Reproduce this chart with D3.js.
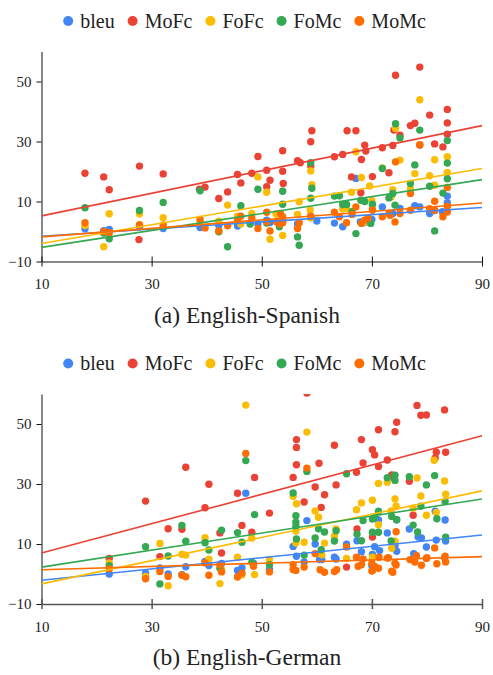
<!DOCTYPE html>
<html>
<head>
<meta charset="utf-8">
<script src="https://cdn.jsdelivr.net/npm/d3@7"></script>
<style>
body { margin: 0; background: #fff; }
text { font-family: "Liberation Serif", "Times New Roman", serif; fill: #222; }
</style>
</head>
<body>
<div id="chart-area"></div>
<script>
//============================DATA============================
var seriesNames = ["bleu", "MoFc", "FoFc", "FoMc", "MoMc"];
var seriesColors = ["#4285f4", "#ea4335", "#fbbc04", "#34a853", "#ff6d01"];
var xTicks = [10, 30, 50, 70, 90];
var yTicks = [-10, 10, 30, 50];
var panelTitles = ["(a) English-Spanish", "(b) English-German"];

// (a) English-Spanish, [x, y] pairs
var esBleu = [[17.9,0.9],[21.3,0.3],[22.3,0.7],[27.8,1.6],[32.1,1],[38.8,1.3],[42.2,2],[45.6,1.8],[47.9,2.9],[49.3,2.5],[50.9,3.8],[51.5,3],[53.3,3.3],[53.8,3.5],[56.5,2.5],[58.9,5],[60,3.5],[63.2,2.8],[64.7,1.6],[67.1,17.7],[67.9,3.2],[68.7,3],[70,4],[71.9,8.2],[73.8,6],[75.1,7.7],[77.8,8.6],[78.7,8.2],[80.5,6],[81.4,7],[82.8,6.6],[83.7,11.8],[83.7,9.6]];
var esMoFc = [[17.9,19.4],[21.3,18.2],[22.3,13.9],[27.8,21.8],[27.7,-2.7],[32.1,19.2],[38.7,14.1],[39.7,14.8],[42.2,11],[43.8,13.2],[45.6,19],[46.2,16.2],[48.2,19.4],[49.3,25],[50.9,20.4],[50.9,14.9],[51.5,17.1],[53.8,26.9],[53.8,20.1],[53.9,16],[56.5,23.6],[57,22.9],[58.9,29.9],[59.1,33.6],[58.9,21.8],[63.2,24.9],[64.7,25.7],[65.5,33.6],[67.1,33.6],[66.3,18.2],[68.1,24],[68.7,28.8],[68.9,26.8],[68,12.9],[70.1,18.3],[71.9,27.9],[73.1,19.6],[73.8,28.7],[74.3,52.1],[74,33.8],[75.1,32.1],[77,35.3],[77.8,36.1],[78.7,54.8],[78.7,28.8],[80.5,38.8],[81.4,29.2],[82.9,28.2],[83.7,40.7],[83.7,36.2],[83.7,32.4]];
var esFoFc = [[17.9,2],[21.3,-5.1],[22.3,5.9],[27.8,5.9],[32.1,4.6],[38.8,3.2],[42.2,3.4],[43.8,8.8],[45.6,5.1],[46.2,2.5],[48.2,6],[49.3,18.2],[50.9,13.1],[51.5,-2.6],[53.8,-1.3],[53.8,4],[52.9,3.8],[52.6,5.9],[56.5,5.7],[56.8,9.9],[58.9,20.2],[59.1,15.6],[58.9,4.5],[58.8,7.2],[64.7,7.5],[65.4,7.7],[67.1,26.6],[66.3,13.1],[68.1,18],[68.5,3],[69.6,15.2],[70.1,7.7],[70,10.3],[71.9,21.2],[73.8,13.9],[73.5,11.5],[74.3,34.3],[75.1,23.8],[77,14.2],[77.8,19.3],[78.7,43.9],[80.5,18.6],[81.4,23.9],[81.4,15.4],[83.7,24.9],[83.7,19.7]];
var esFoMc = [[17.9,7.9],[21.3,-0.5],[22.3,-2.4],[27.8,7],[32.1,9.7],[38.8,13.6],[42.2,-0.1],[43.8,-5.1],[46.2,8.6],[47.9,2.5],[49.3,14.1],[50.9,2.8],[53.8,13.4],[53.8,9.1],[53.2,1.6],[56.5,-1.8],[56.8,-4.6],[58.9,22.9],[59.1,14.4],[58.9,11.1],[63.2,11.8],[64.1,11.9],[64.7,9],[65.4,9],[66.4,6.6],[67.1,-0.7],[68,10.4],[68.7,10],[70.1,9.1],[69.8,2.7],[71.9,21],[73.1,11.2],[73.8,12.7],[74.3,35.9],[75.1,31.2],[74.2,8.8],[77,16],[77.8,22.2],[78.7,33.8],[80.5,15.1],[81.4,0.2],[82.9,12.8],[83.7,30.3],[83.7,22.8],[83.7,17.6]];
var esMoMc = [[17.9,2.9],[21.3,0],[22.3,-0.4],[27.8,2.3],[32.1,2.1],[38.8,4],[39.7,1.2],[42.2,0.2],[43.8,1.9],[45.6,3.8],[46.2,5.1],[48.2,4.5],[49.3,1],[50.9,6.4],[50.9,3.2],[51.5,0.2],[52.7,3.2],[53.4,6],[53.8,4.9],[53.8,2.9],[53.3,2.5],[56.5,1],[56.8,2.9],[58.9,5.1],[63.2,6.4],[64.1,4.9],[65.4,2.9],[67.1,8.2],[66.4,5.7],[68.1,2.7],[68.7,3.8],[69.3,4.5],[70.1,7.1],[71.9,4.9],[73.1,6],[73.3,5.4],[74.2,3.2],[74.3,23.2],[75.1,6],[77,12.7],[77,7.1],[78.7,28.9],[80.5,7.6],[81.4,10.1],[81.4,7.1],[82.9,4.9],[83.7,14.7],[83.7,8.4],[83.7,6.5]];
// trendline values at x=10 and x=90, in series order
var esTrend = [[-1.6,8],[5.2,35.3],[-4,21],[-5.3,17.3],[-1.8,9.5]];

// (b) English-German
var deBleu = [[22.3,0],[28.9,0.3],[31.5,2],[33,0],[35.5,-0.2],[36.2,2.4],[39.7,4.2],[40.4,2.8],[42.7,3.5],[45.6,1.2],[46.4,2],[47.1,26.9],[48.5,3.5],[51.4,1.5],[55.7,9.2],[56.3,5.9],[58.2,17.8],[57.7,4],[59.7,10],[60.9,4.8],[60.5,4.8],[63.2,5.6],[63.5,5],[65.4,9.9],[67.3,11.1],[68.1,7.4],[70,2.8],[70.5,2.5],[70.1,6.5],[70.5,9.1],[71.2,18],[71.4,7.8],[72.8,13.7],[74.2,9.4],[74.5,7.6],[74.5,18.1],[76.8,15],[77.6,6.8],[78.4,12.3],[79,12],[79.9,9],[81.7,11.3],[81.5,20.9],[83.3,18],[83.4,11]];
var deMoFc = [[22.3,5.2],[28.9,24.3],[31.5,5.8],[33,15.1],[35.5,14.9],[36.2,35.6],[39.7,22.1],[40.4,29.9],[42.4,13.7],[42.7,7],[45.6,26.9],[46.4,16.2],[48.2,13.9],[48.7,32.2],[51.4,20.3],[55.7,32.2],[56.3,44.8],[56.3,42.2],[56.3,36.4],[58.2,60.3],[57.7,24],[59.7,29],[60.4,36.9],[60.8,22.2],[61.4,26.4],[63.2,42.9],[63.5,29.7],[65.4,2.3],[67.2,33.9],[67.3,15],[68.1,44.8],[68.4,37],[70.1,41.4],[70.5,39.7],[71.2,35.8],[71.2,48.1],[70.1,12.3],[72.8,38],[73.6,33],[74.2,47.4],[74.5,50.6],[74,32],[76.8,30.9],[77.5,19.6],[78.2,56.2],[78.9,52.9],[79.9,53],[81.7,40.6],[83.2,54.7],[83.4,40.6],[81.5,38.7]];
var deFoFc = [[22.3,3.7],[28.9,-0.8],[31.5,10.2],[33,-3.9],[35.5,6.6],[36.2,6.3],[39.7,12.1],[40.4,4.9],[42.4,-3.2],[42.7,1.5],[45.6,5.6],[46.4,-0.3],[47.1,56.3],[48.2,12],[48.7,-0.2],[51.4,4.8],[55.7,25.9],[56.3,23.4],[56.2,14.3],[56.2,10.3],[57.7,10.6],[58.2,47.3],[59.7,21],[60.3,18.9],[60.9,6.4],[61.4,10.3],[63.2,12.6],[63.5,15],[65.4,5.2],[67.2,21.4],[68.1,23.7],[70.1,24.6],[71.2,16.4],[71.2,30.2],[70.1,5.6],[72.8,30.6],[74.2,25],[74.4,22.6],[73.5,21],[74.2,10.9],[73.6,8.6],[77.5,21.9],[78.2,32],[78.9,26],[79.9,19.6],[81.3,37.9],[81.7,20.5],[83.2,31],[83.4,26.6]];
var deFoMc = [[22.3,2.8],[28.9,9.1],[31.5,-3.3],[33,6],[35.5,16.2],[36.2,10.9],[39.7,10.4],[40.4,8],[42.7,14.6],[42.4,1.9],[45.6,13.8],[46.4,10.6],[47.1,37.8],[48.2,3.9],[48.7,19.8],[51.4,3.1],[55.7,27],[56.2,19.4],[56.2,17.3],[56.2,15.9],[56.3,11.7],[58.2,34.2],[57.7,6.3],[59.7,12],[60.3,15.1],[60.8,8.1],[61.4,14],[63.2,11],[63.5,14.4],[65.4,33.4],[67.3,13.3],[68.1,11.1],[68.4,17.8],[70.1,18.3],[70.5,19],[71.2,20.9],[70.1,13.9],[71.2,13.9],[72.8,32.1],[74.2,32.9],[74.2,31.2],[73.6,19.2],[74.5,18.1],[73.5,11],[76.8,32.4],[77.5,16.3],[78.3,14],[78.9,22.6],[79.9,29.7],[81.4,32.8],[81.8,18.4],[83.3,24.2],[83.4,12.3]];
var deMoMc = [[22.3,1.7],[28.9,-1.6],[31.5,0.8],[33,-0.8],[35.5,-0.4],[36.2,-0.9],[39.7,3.7],[40.4,-0.4],[42.4,3.1],[42.7,0.7],[45.6,-1],[46.4,0.3],[47.1,40.2],[48.5,2.6],[51.4,0.7],[55.7,3.1],[55.7,1.5],[56.2,1.2],[57.7,2.3],[58.2,35.3],[59.7,6.8],[60.6,1.4],[61.4,0.6],[63.6,1.4],[63.2,0.8],[65.4,9],[67.2,5.6],[67.5,2.6],[68.1,3.1],[68.4,5],[70,3.6],[70,1],[70.1,1.2],[70.5,2.3],[71.2,1.9],[71.3,5.6],[72.8,5.3],[73,5.4],[73.6,0.9],[73.8,0.6],[74.2,3.6],[74.4,14.1],[74.4,3],[76.9,4.8],[77.8,4],[78.1,6.1],[79,2.9],[79.9,5.2],[80,5.4],[81.4,8.7],[81.8,3.4],[83.2,5.4],[83.3,5.9],[83.4,4]];
var deTrend = [[-2.1,13],[7,46.1],[-3.3,27.7],[2.3,25],[1.4,5.8]];

//============================CHART============================
var svg = d3.select("#chart-area").append("svg")
    .attr("width", 493)
    .attr("height", 675);

function drawPanel(offsetY, series, trends, title, id) {
    var g = svg.append("g").attr("transform", "translate(0," + offsetY + ")");

    var x = d3.scaleLinear().domain([10, 90]).range([41.5, 482]);
    var y = d3.scaleLinear().domain([-10, 60]).range([261.5, 51.5]);

    // legend, centred
    var legend = g.append("g");
    var pos = 0;
    seriesNames.forEach(function(name, i) {
        var item = legend.append("g").attr("transform", "translate(" + pos + ",0)");
        item.append("circle").attr("cx", 5).attr("cy", 21).attr("r", 5).attr("fill", seriesColors[i]);
        var t = item.append("text").attr("x", 17).attr("y", 27.5)
            .attr("font-size", "20px").text(name);
        pos += 17 + t.node().getComputedTextLength() + 13;
    });
    legend.attr("transform", "translate(" + (244.5 - (pos - 13) / 2) + ",0)");

    // clip to plot area
    svg.append("clipPath").attr("id", "clip" + id)
        .append("rect").attr("x", 41.5).attr("y", 51.5 + offsetY)
        .attr("width", 441).attr("height", 210);

    // axes
    var yAxis = g.append("g")
        .attr("transform", "translate(41.5,0)")
        .call(d3.axisLeft(y).tickValues(yTicks).tickSize(5).tickSizeOuter(0).tickPadding(5));
    var xAxis = g.append("g")
        .attr("transform", "translate(0,261.5)")
        .call(d3.axisBottom(x).tickValues(xTicks).tickSize(5).tickSizeOuter(0));
    xAxis.selectAll(".tick line").attr("y1", -5).attr("y2", 5);
    xAxis.selectAll(".tick text").attr("y", 17);
    [xAxis, yAxis].forEach(function(a) {
        a.attr("font-family", null).attr("font-size", null);
        a.selectAll("path, line").attr("stroke", "#111");
        a.selectAll("text").attr("font-size", "15px").attr("fill", "#222");
    });
    if (id === "b") xAxis.selectAll("path, line").attr("stroke", "#555").attr("stroke-width", 1.5);

    // points
    var plot = svg.append("g")
        .attr("clip-path", "url(#clip" + id + ")")
        .append("g").attr("transform", "translate(0," + offsetY + ")");
    series.forEach(function(pts, i) {
        plot.append("g").selectAll("circle")
            .data(pts)
            .enter().append("circle")
            .attr("cx", function(d) { return x(d[0]); })
            .attr("cy", function(d) { return y(d[1]); })
            .attr("r", 3.7)
            .attr("fill", seriesColors[i]);
    });

    // trendlines
    trends.forEach(function(t, i) {
        plot.append("line")
            .attr("x1", x(10)).attr("y1", y(t[0]))
            .attr("x2", x(90)).attr("y2", y(t[1]))
            .attr("stroke", seriesColors[i])
            .attr("stroke-width", 1.6);
    });

    // caption
    g.append("text")
        .attr("x", 247)
        .attr("y", 322.5)
        .attr("text-anchor", "middle")
        .attr("font-size", "23.5px")
        .text(title);
}

drawPanel(0, [esBleu, esMoFc, esFoFc, esFoMc, esMoMc], esTrend, panelTitles[0], "a");
drawPanel(342.5, [deBleu, deMoFc, deFoFc, deFoMc, deMoMc], deTrend, panelTitles[1], "b");
</script>
</body>
</html>
